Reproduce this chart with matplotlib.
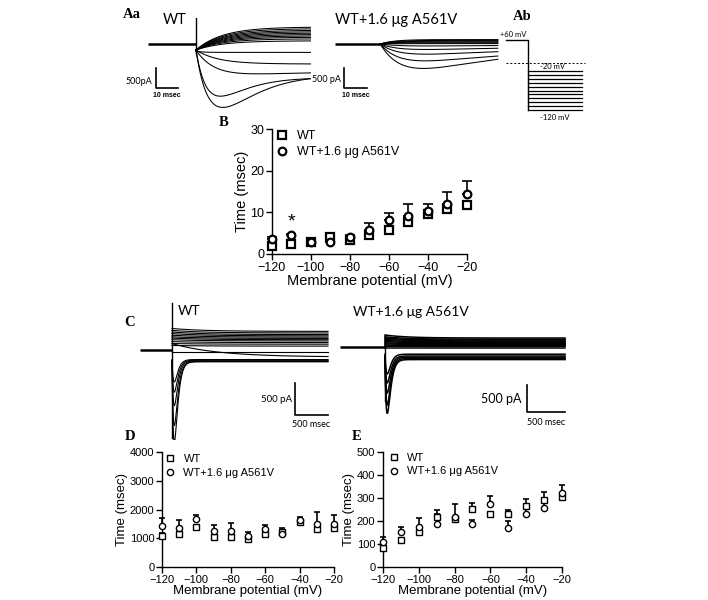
import numpy as np
import matplotlib.pyplot as plt

# membrane potentials of the summary plots (mV)
VOLTS = [-120, -110, -100, -90, -80, -70, -60, -50, -40, -30, -20]

# B: activation time constants (msec)
B_WT = [2.0, 2.4, 2.9, 4.0, 3.3, 4.5, 5.8, 7.6, 9.7, 10.8, 11.8]
B_WT_ERR = [0.5, 0.3, 0.3, 0.4, 0.4, 0.5, 0.5, 0.8, 0.6, 0.8, 0.5]
B_MUT = [3.7, 4.5, 2.8, 2.8, 4.1, 5.8, 8.2, 9.2, 10.3, 12.0, 14.4]
B_MUT_ERR = [0.4, 0.4, 0.3, 0.4, 0.4, 1.6, 1.6, 2.8, 1.7, 3.0, 3.1]

# D: slow time constants (msec)
D_WT = [1080, 1140, 1380, 1050, 1050, 970, 1160, 1220, 1550, 1330, 1360]
D_WT_ERR = [100, 80, 80, 80, 80, 60, 80, 140, 80, 80, 80]
D_MUT = [1410, 1360, 1660, 1250, 1250, 1070, 1330, 1150, 1620, 1500, 1490]
D_MUT_ERR = [290, 260, 140, 220, 280, 150, 140, 100, 120, 410, 310]

# E: fast time constants (msec)
E_WT = [83, 117, 153, 219, 207, 251, 231, 229, 266, 292, 304]
E_WT_ERR = [10, 10, 10, 10, 10, 29, 10, 19, 30, 34, 10]
E_MUT = [109, 153, 175, 187, 216, 185, 273, 171, 229, 258, 321]
E_MUT_ERR = [22, 22, 37, 61, 57, 19, 34, 29, 30, 30, 35]

# current traces, one tuple per sweep: (steady pA, start pA, tau ms, peak pA, peak time ms)
A_WT_TRACES = [(425, -150, 12, 0, 10), (385, -150, 12, 0, 10), (345, -150, 12, 0, 10),
               (310, -150, 12, 0, 10), (275, -150, 12, 0, 10), (240, -150, 12, 0, 10),
               (205, -150, 12, 0, 10), (170, -150, 12, 0, 10), (130, -150, 12, 0, 10),
               (80, -150, 12, 0, 10), (-210, -180, 3, 0, 10),
               (-500, -150, 10, 0, 10), (-700, -150, 8, -80, 15),
               (-840, -150, 4, -520, 9), (-770, -150, 4, -850, 11)]
A_MUT_TRACES = [(110, 0, 6, 0, 18), (90, 0, 6, 0, 18), (70, 0, 6, 0, 18), (50, 0, 6, 0, 18),
                (30, 0, 6, 0, 18), (10, 0, 6, 0, 18), (-30, 0, 6, -20, 18),
                (-80, 0, 6, -60, 18), (-140, 0, 6, -120, 18), (-200, 0, 6, -230, 18),
                (-200, 0, 6, -420, 18)]
C_WT_TRACES = [(290, 335, 500, 0, 40), (265, 305, 500, 0, 40), (240, 280, 500, 0, 40),
               (220, 255, 500, 0, 40), (200, 230, 500, 0, 40), (180, 205, 500, 0, 40),
               (160, 185, 500, 0, 40), (140, 160, 500, 0, 40), (115, 130, 500, 0, 40),
               (90, 100, 500, 0, 40), (60, 70, 500, 0, 40), (-30, -30, 500, 0, 40),
               (-110, 100, 700, 0, 40), (-150, -150, 500, -350, 35),
               (-160, -160, 500, -500, 35), (-170, -170, 500, -700, 35),
               (-180, -180, 500, -1000, 35), (-185, -185, 500, -1250, 35)]
C_MUT_TRACES = [(150, 200, 300, 0, 30), (130, 170, 300, 0, 30), (115, 150, 300, 0, 30),
                (100, 130, 300, 0, 30), (85, 110, 300, 0, 30), (70, 90, 300, 0, 30),
                (55, 70, 300, 0, 30), (40, 52, 300, 0, 30), (25, 32, 300, 0, 30),
                (10, 13, 300, 0, 30), (-20, -20, 300, 0, 30), (-120, -120, 300, -330, 30),
                (-150, -150, 300, -450, 30), (-170, -170, 300, -600, 30),
                (-190, -190, 300, -780, 30), (-210, -210, 300, -900, 30)]

# voltage protocol (mV)
HOLD_MV = 60
STEP_MV = [-20, -30, -40, -50, -60, -70, -80, -90, -100, -110, -120]

W, H = 708, 600
plt.rcParams['font.family'] = ['Liberation Sans', 'DejaVu Sans']


def box(l, t, r, b):
    return [l / W, 1 - b / H, (r - l) / W, (b - t) / H]


def label(x, y, s, **kw):
    fig.text(x / W, 1 - y / H, s, **kw)


def sweep(t, ss, i0, tau, peak, tp):
    a = (t / tp) * np.exp(1 - t / tp)
    return ss + (i0 - ss) * np.exp(-t / tau) + peak * a


def trace_panel(rect, xlim, ylim, traces, t_end, lw, spike=None):
    ax = fig.add_axes(box(*rect))
    ax.set_xlim(xlim)
    ax.set_ylim(ylim)
    ax.axis('off')
    t = np.linspace(0, t_end, 600)
    ax.plot([xlim[0], 0], [0, 0], color='k', lw=1.8, solid_capstyle='butt')
    for tr in traces:
        ax.plot(t, sweep(t, *tr), color='k', lw=lw)
    if spike is not None:
        ax.plot([0, 0], spike, color='k', lw=1.0)
    return ax


def scale_bar(ax, x0, y0, dx, dy):
    ax.plot([x0, x0, x0 + dx], [y0, y0 - dy, y0 - dy], color='k', lw=1.2,
            clip_on=False)


def panel_letter(x, y, s):
    label(x, y, s, fontsize=10.5, fontweight='bold', family='Liberation Serif',
          ha='center', va='center')


fig = plt.figure(figsize=(W / 100, H / 100), dpi=100)

# ---- A a ----
ax = trace_panel((148, 18, 312, 112), (-21.8, 52.7), (-1700, 650), A_WT_TRACES, 52, 0.75,
                 spike=(-250, 640))
scale_bar(ax, -18.2, -600, 10, 500)
ax.text(-19.8, -950, '500pA', fontsize=6.5, ha='right', va='center', family='Lato')
ax.text(-13.2, -1200, '10 msec', fontsize=5, ha='center', va='top', fontweight='bold')

ax = trace_panel((335, 18, 499, 112), (-20, 52.5), (-1700, 650), A_MUT_TRACES, 52, 0.75)
scale_bar(ax, -16, -600, 10, 500)
ax.text(-17.5, -900, '500 pA', fontsize=6.5, ha='right', va='center', family='Lato')
ax.text(-11, -1200, '10 msec', fontsize=5, ha='center', va='top', fontweight='bold')

panel_letter(132, 15, 'Aa')
label(163, 20, 'WT', fontsize=10.5, family='Lato', va='center')
label(335, 20, 'WT+1.6 μg A561V', fontsize=10.5, family='Lato', va='center')

# ---- A b : protocol ----
ax = fig.add_axes(box(500, 28, 592, 122))
ax.set_xlim(0, 100)
ax.set_ylim(-150.9, 90.9)
ax.axis('off')
ax.plot([6.5, 30.4, 30.4], [HOLD_MV, HOLD_MV, min(STEP_MV)], color='k', lw=1.0)
for v in STEP_MV:
    ax.plot([30.4, 89], [v, v], color='k', lw=0.9)
ax.plot([6.5, 92], [0, 0], color='k', lw=0.7, ls=(0, (2, 2)))
ax.text(14, 64, '+60 mV', fontsize=5.5, ha='center', va='bottom', family='Lato')
ax.text(57, -7, '-20 mV', fontsize=5.5, ha='center', va='center', family='Lato')
ax.text(59, -140, '-120 mV', fontsize=5.5, ha='center', va='center', family='Lato')
panel_letter(522, 16, 'Ab')

# ---- C ----
ax = trace_panel((140, 300, 330, 440), (-485, 2394), (-1406, 780), C_WT_TRACES, 2364, 0.8,
                 spike=(-1380, 740))
scale_bar(ax, 1864, -520, 500, 500)
ax.text(1820, -770, '500 pA', fontsize=7, ha='right', va='center', family='Lato')
ax.text(2114, -1100, '500 msec', fontsize=6.5, ha='center', va='top', family='Lato')

ax = trace_panel((340, 300, 566, 440), (-592, 2382), (-1553, 785), C_MUT_TRACES, 2370, 1.1,
                 spike=(-900, 200))
scale_bar(ax, 1868, -635, 500, 450)
ax.text(1800, -860, '500 pA', fontsize=9, ha='right', va='center', family='Lato')
ax.text(2118, -1180, '500 msec', fontsize=6.5, ha='center', va='top', family='Lato')

panel_letter(130, 322, 'C')
label(178, 311, 'WT', fontsize=10, family='Lato', va='center')
label(353, 312, 'WT+1.6 μg A561V', fontsize=10, family='Lato', va='center')


# ---- summary plots ----
def summary(rect, wt, wt_err, mut, mut_err, ymax, step, fs, ms, mew, cap, leg):
    ax = fig.add_axes(box(*rect))
    z = np.zeros(len(VOLTS))
    for y, e in ((wt, wt_err), (mut, mut_err)):
        ax.errorbar(VOLTS, y, yerr=[z, e], fmt='none', ecolor='k', elinewidth=1.2,
                    capsize=cap, capthick=1.2, clip_on=False)
    ax.plot(VOLTS, wt, ls='none', marker='s', ms=ms, mfc='white', mec='k', mew=mew,
            clip_on=False, zorder=3, label='WT')
    ax.plot(VOLTS, mut, ls='none', marker='o', ms=ms, mfc='white', mec='k', mew=mew,
            clip_on=False, zorder=3, label='WT+1.6 μg A561V')
    ax.set_xlim(-120, -20)
    ax.set_ylim(0, ymax)
    ax.set_xticks(range(-120, 0, 20))
    ax.set_yticks(np.arange(0, ymax + 1, step))
    for s in ('top', 'right'):
        ax.spines[s].set_visible(False)
    for s in ('left', 'bottom'):
        ax.spines[s].set_linewidth(1.0)
    ax.tick_params(direction='out', length=4, width=1.0, labelsize=fs, pad=1.5)
    ax.set_xlabel('Membrane potential (mV)', fontsize=fs + 1.5, labelpad=0)
    ax.set_ylabel('Time (msec)', fontsize=fs + 1.5, labelpad=1)
    ax.legend(loc='upper left', bbox_to_anchor=leg, frameon=False,
              fontsize=fs, handletextpad=0.7, labelspacing=0.3, handlelength=1.0,
              borderaxespad=0, borderpad=0)
    return ax


ax = summary((272, 129, 467, 254), B_WT, B_WT_ERR, B_MUT, B_MUT_ERR, 30, 10,
             9, 5.5, 1.6, 3.5, (0.02, 0.99))
ax.text(-110, 7.7, '*', fontsize=14, ha='center', va='center')
panel_letter(224, 123, 'B')

summary((162, 452, 334, 567), D_WT, D_WT_ERR, D_MUT, D_MUT_ERR, 4000, 1000,
        8, 4.5, 1.0, 2.5, (0.015, 0.98))
panel_letter(130, 437, 'D')

summary((383, 452, 562, 567), E_WT, E_WT_ERR, E_MUT, E_MUT_ERR, 500, 100,
        8, 4.5, 1.0, 2.5, (0.03, 0.99))
panel_letter(357, 437, 'E')

fig.savefig('out.png', dpi=100)
